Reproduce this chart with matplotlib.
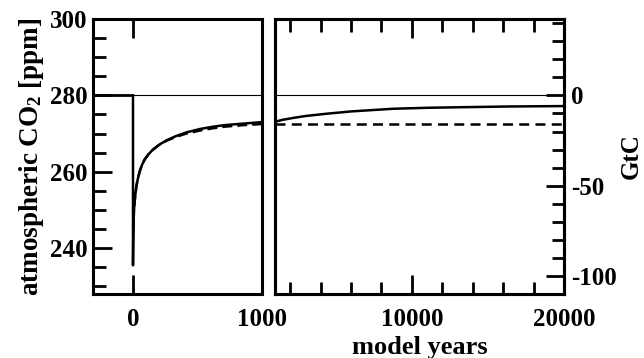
import matplotlib
matplotlib.use("Agg")
import matplotlib.pyplot as plt
from matplotlib.ticker import MultipleLocator, FixedLocator

plt.rcParams['font.family'] = ['Liberation Serif', 'DejaVu Serif']
plt.rcParams['font.weight'] = 'bold'
plt.rcParams['mathtext.fontset'] = 'custom'
plt.rcParams['mathtext.rm'] = 'Liberation Serif:bold'
plt.rcParams['mathtext.bf'] = 'Liberation Serif:bold'
plt.rcParams['mathtext.it'] = 'Liberation Serif:bold:italic'

# ---- data ----
pre_years = [-300, 0]
pre_co2 = [280, 280]

solid_years = [0, 0, 2, 4, 7, 10, 14, 20, 26, 35, 52, 70, 90, 120, 155, 200,
               258, 330, 413, 519, 620, 706, 850, 1000]
solid_co2 = [280, 235.5, 242, 246, 249, 251, 252.6, 254.5, 256.1, 257.8, 260.1,
             261.8, 263.2, 264.6, 265.8, 267.0, 268.2, 269.3, 270.3, 271.2,
             271.8, 272.2, 272.6, 273.0]

dash_years = [10, 14, 20, 26, 35, 52, 70, 90, 120, 155, 200, 258, 330, 413,
              519, 620, 706, 850, 1000]
dash_co2 = [251, 252.6, 254.5, 256.1, 257.8, 260.1, 261.8, 263.2, 264.6, 265.8,
            267.0, 268.1, 269.1, 270.0, 270.8, 271.4, 271.8, 272.2, 272.5]

long_years = [1000, 1500, 2200, 3000, 4400, 6000, 8780, 11000, 13160, 16500, 20000]
long_co2 = [273.1, 273.6, 274.1, 274.6, 275.2, 275.8, 276.5, 276.75, 276.9, 277.1, 277.2]

long_dash_years = [1000, 20000]
long_dash_co2 = [272.6, 272.6]

base_years_left = [0, 1000]
base_years_right = [1000, 20000]
base_co2 = [280, 280]

gtc_per_ppm = 2.111
ppm_lim = (228, 300)

fig = plt.figure(figsize=(6.44, 3.58), dpi=100)
axL = fig.add_axes([93/644, 64/358, 169/644, 275/358])
axR = fig.add_axes([275/644, 64/358, 289/644, 275/358])

LW_SP = 2.2
for ax in (axL, axR):
    for s in ax.spines.values():
        s.set_linewidth(LW_SP)
    ax.set_ylim(*ppm_lim)

# left panel
axL.plot(pre_years, pre_co2, color='black', lw=2.0, solid_capstyle='butt')
axL.plot(base_years_left, base_co2, color='black', lw=0.8)
axL.plot(dash_years, dash_co2, color='black', lw=1.8, ls=(0, (4, 2)))
axL.plot(solid_years, solid_co2, color='black', lw=1.8, solid_joinstyle='round')
axL.set_xlim(-310, 1000)
axL.xaxis.set_major_locator(FixedLocator([0, 1000]))
axL.set_xticklabels(['0', '1000'])
axL.yaxis.set_major_locator(MultipleLocator(20))
axL.yaxis.set_minor_locator(MultipleLocator(5))
axL.tick_params(axis='both', which='both', direction='in', width=2.0, labelsize=18)
axL.tick_params(axis='y', which='major', length=14, pad=4, right=False)
axL.tick_params(axis='y', which='minor', length=9, right=False)
axL.tick_params(axis='x', which='major', length=14, pad=10, top=True)
axL.set_ylabel(r'atmospheric CO$_\mathbf{2}$ [ppm]', fontsize=19.5, fontweight='bold', labelpad=3)

# right panel
axR.plot(base_years_right, base_co2, color='black', lw=0.8)
axR.plot(long_dash_years, long_dash_co2, color='black', lw=1.8, ls=(0, (4, 2.5)))
axR.plot(long_years, long_co2, color='black', lw=1.8)
axR.set_xlim(1000, 20000)
axR.xaxis.set_major_locator(FixedLocator([10000, 20000]))
axR.xaxis.set_minor_locator(FixedLocator(list(range(2000, 20000, 2000))))
axR.set_xticklabels(['10000', '20000'])
axR.tick_params(axis='x', which='both', direction='in', width=2.0, labelsize=18, top=True)
axR.tick_params(axis='x', which='major', length=14, pad=10)
axR.tick_params(axis='x', which='minor', length=9)
axR.set_xlabel('model years', fontsize=19, fontweight='bold', labelpad=4)

axT = axR.twinx()
axR.tick_params(axis='y', which='both', left=False, right=False,
                labelleft=False, labelright=False)
axT.set_ylim((ppm_lim[0] - 280) * gtc_per_ppm, (ppm_lim[1] - 280) * gtc_per_ppm)
axT.yaxis.set_major_locator(FixedLocator([-100, -50, 0]))
axT.yaxis.set_minor_locator(FixedLocator(list(range(-100, 50, 10))))
axT.set_yticklabels(['-100', '-50', '0'])
axT.tick_params(axis='y', which='both', direction='in', width=2.0, labelsize=18)
axT.tick_params(axis='y', which='major', length=13, pad=5)
axT.tick_params(axis='y', which='minor', length=9)
for s in axT.spines.values():
    s.set_linewidth(LW_SP)
axT.set_ylabel('GtC', fontsize=18, fontweight='bold', labelpad=2)

fig.savefig('out.png', dpi=100)
